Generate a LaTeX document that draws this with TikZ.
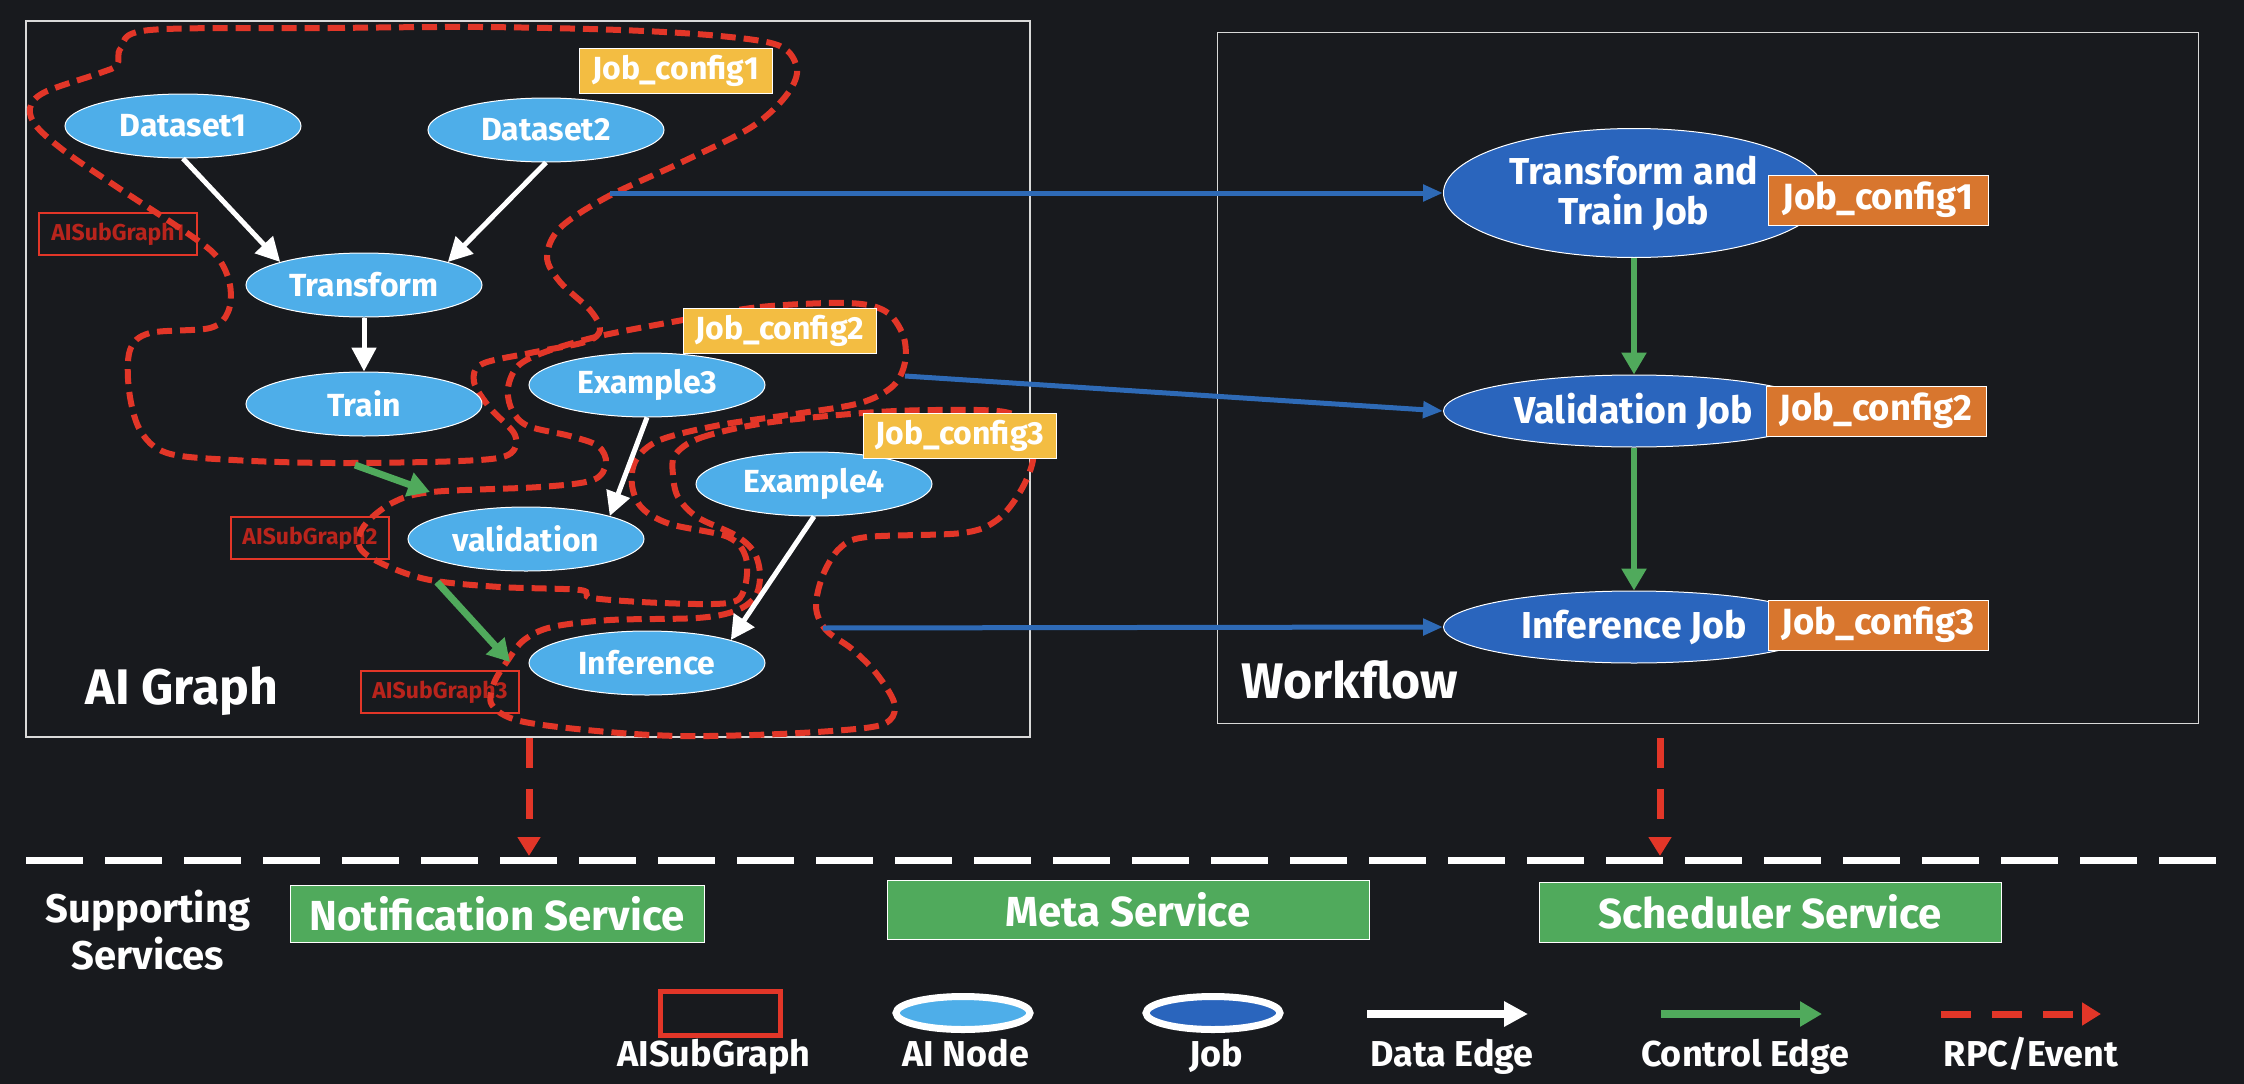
\documentclass[tikz,border=0pt]{standalone}
\usepackage{fontspec}
\setmainfont{Fira Sans}
\usepackage{xcolor}
\usepackage{tikz}
\usetikzlibrary{positioning,shapes.geometric,arrows.meta}
\definecolor{BgDark}{RGB}{24,26,30}
\definecolor{NodeBlue}{RGB}{78,174,233}
\definecolor{JobBlue}{RGB}{42,101,189}
\definecolor{CfgYellow}{RGB}{243,189,66}
\definecolor{CfgOrange}{RGB}{216,118,46}
\definecolor{SubRed}{RGB}{226,54,40}
\definecolor{LabelRed}{RGB}{185,36,28}
\definecolor{CtrlGreen}{RGB}{80,170,92}
\definecolor{RpcBlue}{RGB}{46,106,182}
\tikzset{
    ainode/.style={ellipse, draw=white, fill=NodeBlue, line width=1pt, minimum width=236pt, minimum height=64pt, inner sep=0pt, text=white, font=\bfseries\fontsize{32}{36}\selectfont},
    jobnode/.style={ellipse, draw=white, fill=JobBlue, line width=1pt, minimum width=381pt, minimum height=72pt, inner sep=0pt, align=center, text=white, font=\bfseries\fontsize{37.5}{40}\selectfont},
    cfgtag/.style={rectangle, draw=white, line width=1pt, minimum width=193pt, minimum height=45pt, inner sep=0pt, text=white, font=\bfseries\fontsize{32}{34}\selectfont},
    subgraph/.style={draw=SubRed, line width=6pt, dash pattern=on 15pt off 8pt},
    sglabel/.style={rectangle, draw=SubRed, line width=2pt, minimum width=158pt, minimum height=42pt, inner sep=0pt, text=LabelRed, font=\bfseries\fontsize{23}{25}\selectfont},
    service/.style={rectangle, draw=white, fill=CtrlGreen, line width=1pt, minimum height=58pt, inner sep=0pt, text=white, font=\bfseries\fontsize{42}{46}\selectfont}
}

\begin{document}
\begin{tikzpicture}[
                x=1pt, y=-1pt,
                panel/.style={rectangle, draw=white!85!black, line width=1.5pt, inner sep=0pt},
                title/.style={text=white, inner sep=0pt, font=\bfseries\fontsize{50}{54}\selectfont},
                legtext/.style={text=white, anchor=base, inner sep=0pt, font=\bfseries\fontsize{36}{40}\selectfont},
                dataedge/.style={draw=white, line width=5pt, -{Triangle[length=24pt,width=24pt]}},
                ctrledge/.style={draw=CtrlGreen, line width=7pt, -{Triangle[length=22pt,width=24pt]}},
                rpcedge/.style={draw=RpcBlue, line width=5pt, -{Triangle[length=20pt,width=16pt]}},
                eventedge/.style={draw=SubRed, line width=7pt, dash pattern=on 30pt off 21pt, -{Triangle[length=19pt,width=22pt]}}
            ]
                \fill[BgDark] (0,0) rectangle (2244,1084);
                \useasboundingbox (0,0) rectangle (2244,1084);

                \node[panel, minimum width=1004pt, minimum height=716pt] (aigraph) at (528,379) {};
                \node[panel, minimum width=981pt, minimum height=691pt] (workflow) at (1708,378) {};
                \node[title] (aititle) at (182,691) {AI Graph};
                \node[title] (wftitle) at (1350,680) {Workflow};

                \node[sglabel] (sl1) at (118,234) {AISubGraph1};
                \node[sglabel] (sl2) at (310,538) {AISubGraph2};
                \node[sglabel] (sl3) at (440,692) {AISubGraph3};

                \draw[subgraph] plot[smooth cycle, tension=0.55] coordinates {
                    (150,30) (330,28) (480,27) (620,30) (720,36) (780,46) (797,70) (785,97)
                    (750,128) (680,163) (607,197) (560,228) (547,257) (560,282) (590,310)
                    (600,330) (585,342) (530,353) (482,364) (474,382) (490,408) (515,435)
                    (508,455) (460,461) (333,463) (233,460) (167,453) (140,430) (129,390)
                    (130,350) (150,333) (210,328) (228,312) (230,285) (218,258) (190,235)
                    (117,187) (67,153) (37,127) (30,108) (45,92) (100,73) (117,65) (121,48)};
                \draw[subgraph] plot[smooth cycle, tension=0.55] coordinates {
                    (683,320) (760,307) (847,303) (885,311) (903,335) (905,362) (893,386)
                    (860,403) (795,414) (720,425) (660,440) (636,460) (632,485) (642,508)
                    (670,524) (728,537) (746,558) (744,590) (728,603) (662,603) (592,598)
                    (580,590) (500,587) (430,580) (385,565) (360,548) (364,526) (392,503)
                    (432,492) (540,487) (593,480) (606,463) (598,446) (570,436) (528,426)
                    (512,410) (508,388) (518,366) (545,352) (600,336)};
                \draw[subgraph] plot[smooth cycle, tension=0.55] coordinates {
                    (675,455) (700,438) (765,423) (863,413) (935,410) (1005,412) (1030,428)
                    (1033,460) (1020,492) (997,520) (962,533) (867,537) (840,548) (823,575)
                    (816,607) (826,630) (852,649) (876,673) (894,702) (890,720) (865,728)
                    (780,734) (680,736) (597,731) (520,721) (492,705) (494,683) (508,660)
                    (524,640) (552,627) (610,620) (697,618) (735,611) (755,597) (760,575)
                    (754,552) (735,535) (697,517) (678,497) (673,475)};

                \node[ainode] (d1) at (183,126) {Dataset1};
                \node[ainode] (d2) at (546,130) {Dataset2};
                \node[ainode] (tr) at (364,285) {Transform};
                \node[ainode] (tn) at (364,404) {Train};
                \node[ainode] (ex3) at (647,385) {Example3};
                \node[ainode] (val) at (526,539) {validation};
                \node[ainode] (ex4) at (814,484) {Example4};
                \node[ainode] (inf) at (647,663) {Inference};

                \node[cfgtag, fill=CfgYellow] (yc1) at (676,71) {Job\_config1};
                \node[cfgtag, fill=CfgYellow] (yc2) at (780,331) {Job\_config2};
                \node[cfgtag, fill=CfgYellow] (yc3) at (960,436) {Job\_config3};

                \draw[dataedge] (d1.south) -- (tr.north west);
                \draw[dataedge] (d2.south) -- (tr.north east);
                \draw[dataedge] (tr) -- (tn);
                \draw[dataedge] (ex3.south) -- (val.north east);
                \draw[dataedge] (ex4.south) -- (inf.north east);

                \coordinate (sg1-out) at (355,465);
                \coordinate (sg2-in) at (430,492);
                \coordinate (sg2-out) at (437,582);
                \coordinate (sg3-in) at (510,662);
                \draw[ctrledge] (sg1-out) -- (sg2-in);
                \draw[ctrledge] (sg2-out) -- (sg3-in);

                \node[jobnode, minimum height=129pt] (tj) at (1634,193) {Transform and\\Train Job};
                \node[jobnode] (vj) at (1634,411) {Validation Job};
                \node[jobnode] (ij) at (1634,627) {Inference Job};
                \node[cfgtag, fill=CfgOrange, minimum width=220pt, minimum height=50pt, font=\bfseries\fontsize{36.5}{38}\selectfont] (oc1) at (1878,200) {Job\_config1};
                \node[cfgtag, fill=CfgOrange, minimum width=220pt, minimum height=50pt, font=\bfseries\fontsize{36.5}{38}\selectfont] (oc2) at (1876,411) {Job\_config2};
                \node[cfgtag, fill=CfgOrange, minimum width=220pt, minimum height=50pt, font=\bfseries\fontsize{36.5}{38}\selectfont] (oc3) at (1878,625) {Job\_config3};

                \draw[ctrledge, line width=6pt] (tj) -- (vj);
                \draw[ctrledge, line width=6pt] (vj) -- (ij);

                \coordinate (sg1-rpc) at (610,193);
                \coordinate (sg2-rpc) at (905,376);
                \coordinate (sg3-rpc) at (823,628);
                \draw[rpcedge] (sg1-rpc) -- (tj.west);
                \draw[rpcedge] (sg2-rpc) -- (vj.west);
                \draw[rpcedge] (sg3-rpc) -- (ij.west);

                \coordinate (bus-w) at (26,860);
                \coordinate (bus-e) at (2218,860);
                \draw[white, line width=7pt, dash pattern=on 57pt off 22pt] (bus-w) -- (bus-e);
                \coordinate (ai-ev) at (529,738);
                \coordinate (ai-bus) at (529,856);
                \coordinate (wf-ev) at (1660,738);
                \coordinate (wf-bus) at (1660,856);
                \draw[eventedge] (ai-ev) -- (ai-bus);
                \draw[eventedge] (wf-ev) -- (wf-bus);

                \node[title, align=center, font=\bfseries\fontsize{40}{47}\selectfont] (sup) at (148,930) {Supporting\\Services};
                \node[service, minimum width=414pt, minimum height=57pt] (ns) at (497,914) {Notification Service};
                \node[service, minimum width=482pt, minimum height=59pt] (ms) at (1128,910) {Meta Service};
                \node[service, minimum width=462pt, minimum height=60pt] (ss) at (1770,912) {Scheduler Service};

                \node[rectangle, draw=SubRed, line width=5pt, minimum width=120pt, minimum height=44pt] (key-sg) at (720,1013) {};
                \node[ainode, line width=7pt, minimum width=134pt, minimum height=33pt] (key-ai) at (963,1013) {};
                \node[jobnode, line width=7pt, minimum width=134pt, minimum height=33pt] (key-job) at (1213,1013) {};
                \coordinate (key-d-a) at (1367,1014);
                \coordinate (key-d-b) at (1528,1014);
                \coordinate (key-c-a) at (1661,1014);
                \coordinate (key-c-b) at (1822,1014);
                \coordinate (key-e-a) at (1941,1014);
                \coordinate (key-e-b) at (2101,1014);
                \draw[dataedge, line width=8pt] (key-d-a) -- (key-d-b);
                \draw[ctrledge, line width=8pt] (key-c-a) -- (key-c-b);
                \draw[eventedge] (key-e-a) -- (key-e-b);

                \node[legtext] (lab-sg) at (714,1066) {AISubGraph};
                \node[legtext] (lab-ai) at (966,1066) {AI Node};
                \node[legtext] (lab-job) at (1216,1066) {Job};
                \node[legtext] (lab-d) at (1452,1066) {Data Edge};
                \node[legtext] (lab-c) at (1745,1066) {Control Edge};
                \node[legtext] (lab-e) at (2031,1066) {RPC/Event};
            \end{tikzpicture}
\end{document}
